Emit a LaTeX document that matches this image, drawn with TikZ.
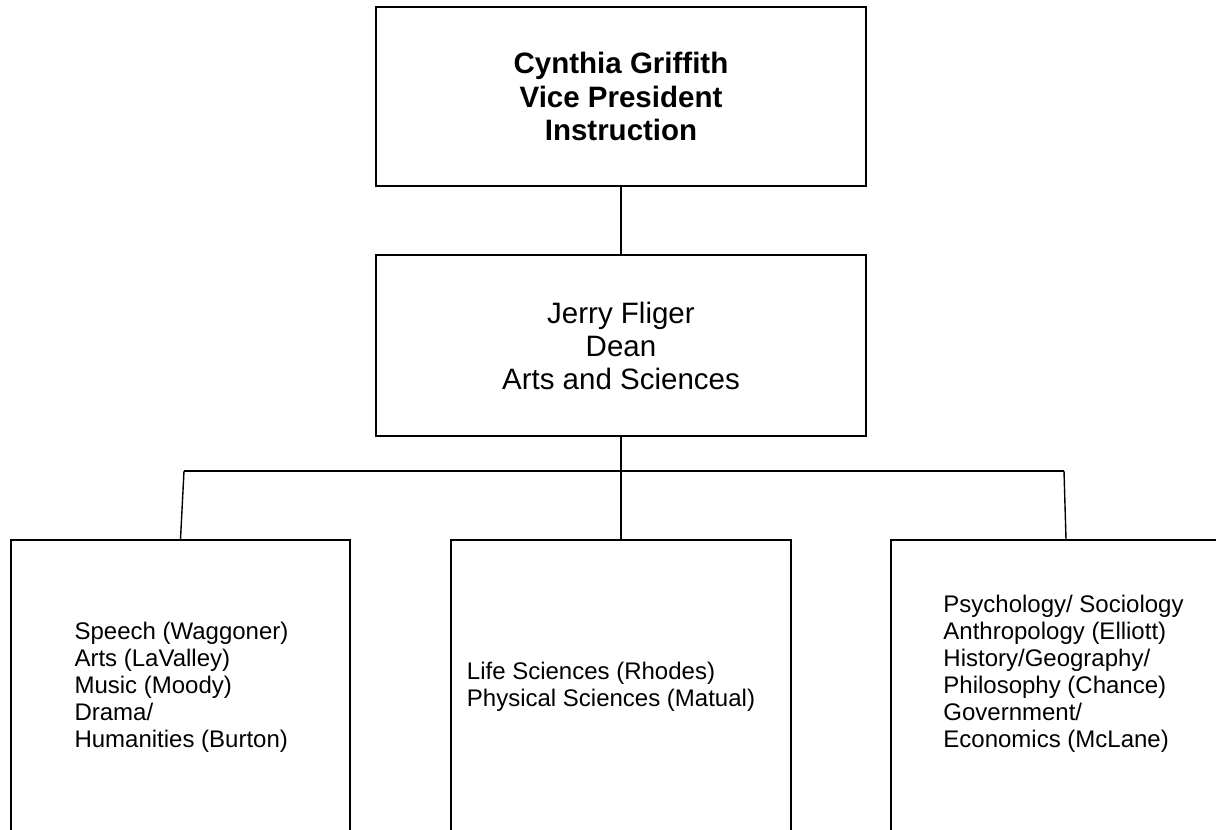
\documentclass[tikz,border=0pt]{standalone}
\usepackage{fontspec}
\setmainfont{Liberation Sans}
\begin{document}
\begin{tikzpicture}[x=1pt,y=-1pt,
  box/.style={draw=black, line width=1.4pt, rectangle, inner sep=0pt},
  conn/.style={draw=black, line width=1.4pt},
  vptext/.style={font=\fontsize{29.5}{33.3}\selectfont\bfseries, align=center},
  deantext/.style={font=\fontsize{29.5}{33}\selectfont, align=center},
  deptext/.style={font=\fontsize{24}{27}\selectfont, align=left, inner sep=0pt}]
\useasboundingbox (0,0) rectangle (1216,830);
\clip (0,0) rectangle (1216,830);
% boxes
\node[box, minimum width=490pt, minimum height=179pt, vptext] (vp) at (621,96.5)
  {Cynthia Griffith\\Vice President\\Instruction};
\node[box, minimum width=490pt, minimum height=181pt, deantext] (dean) at (621,345.5)
  {Jerry Fliger\\Dean\\Arts and Sciences};
\node[box, minimum width=339pt, minimum height=300pt] (arts) at (180.5,690) {};
\node[box, minimum width=340pt, minimum height=300pt] (sci) at (621,690) {};
\node[box, minimum width=350pt, minimum height=300pt] (soc) at (1066,690) {};
% department texts
\node[deptext] (artstext) at (181.5,687)
  {Speech (Waggoner)\\Arts (LaValley)\\Music (Moody)\\Drama/\\Humanities (Burton)};
\node[deptext] (scitext) at (611,687)
  {Life Sciences (Rhodes)\\Physical Sciences (Matual)};
\node[deptext] (soctext) at (1063.5,674)
  {Psychology/ Sociology\\Anthropology (Elliott)\\History/Geography/\\Philosophy (Chance)\\Government/\\Economics (McLane)};
% connectors
\coordinate (jL) at (184,471);
\coordinate (jR) at (1064,471);
\draw[conn] (vp.south) -- (dean.north);
\draw[conn] (dean.south) -- (sci.north);
\draw[conn] (jL) -- (jR);
\draw[conn] (jL) -- (arts.north);
\draw[conn] (jR) -- (soc.north);
\end{tikzpicture}
\end{document}
